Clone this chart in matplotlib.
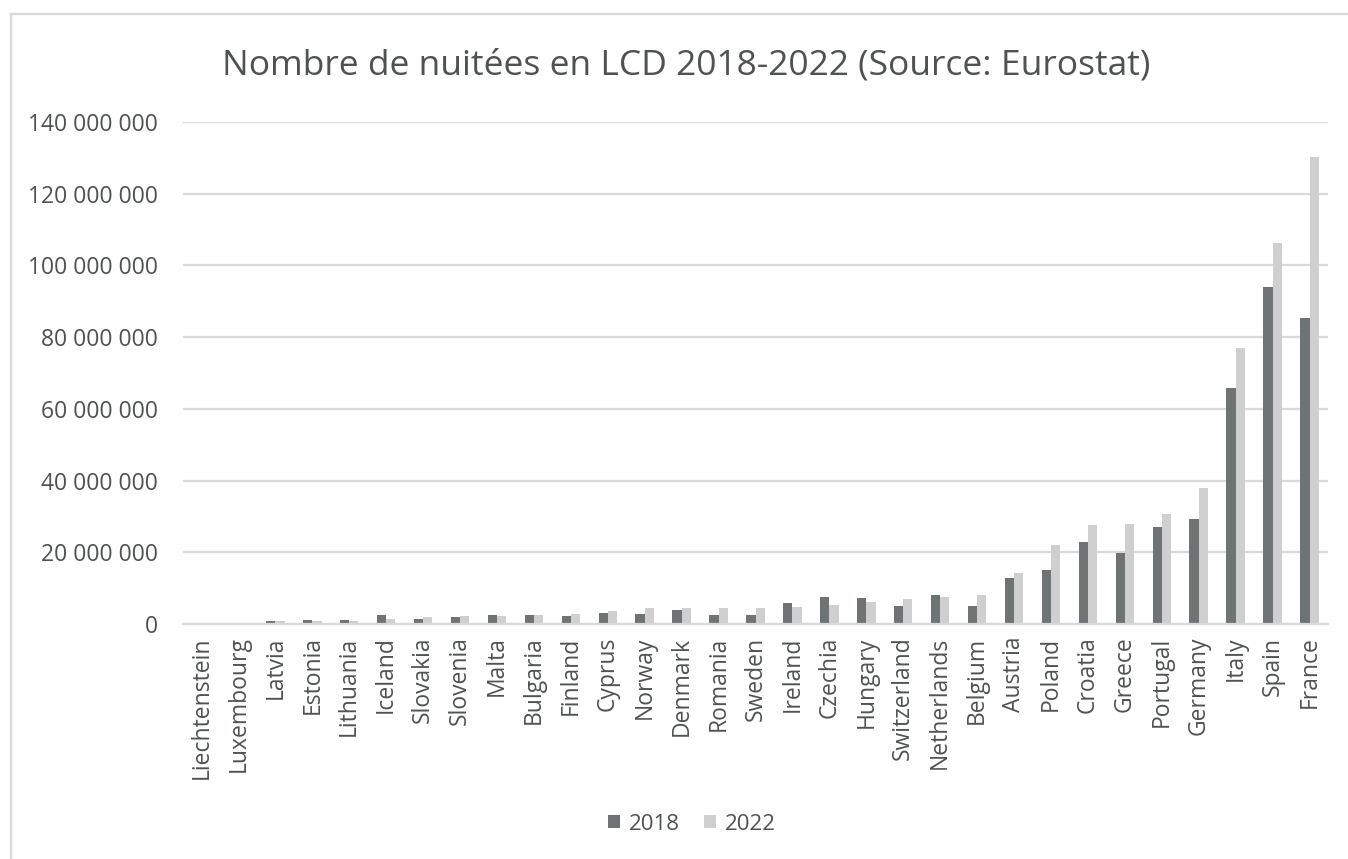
import matplotlib.pyplot as plt
import numpy as np
from matplotlib.lines import Line2D

plt.rcParams['font.family'] = ['Open Sans', 'DejaVu Sans']

# Countries, sorted as in the chart
countries = ["Liechtenstein", "Luxembourg", "Latvia", "Estonia", "Lithuania", "Iceland",
             "Slovakia", "Slovenia", "Malta", "Bulgaria", "Finland", "Cyprus", "Norway",
             "Denmark", "Romania", "Sweden", "Ireland", "Czechia", "Hungary", "Switzerland",
             "Netherlands", "Belgium", "Austria", "Poland", "Croatia", "Greece", "Portugal",
             "Germany", "Italy", "Spain", "France"]

# Nights (millions)
nights_2018 = [0.05, 0.05, 0.75, 1.1, 1.1, 2.6, 1.5, 1.9, 2.6, 2.6, 2.1, 3.2, 2.8,
               4.0, 2.6, 2.6, 5.8, 7.6, 7.3, 5.0, 8.2, 5.0, 12.9, 15.1, 22.9, 19.8,
               27.0, 29.4, 65.8, 94.0, 85.2]
nights_2022 = [0.05, 0.05, 0.9, 0.9, 0.9, 1.4, 1.9, 2.3, 2.3, 2.6, 2.8, 3.7, 4.4,
               4.5, 4.4, 4.4, 4.8, 5.3, 6.2, 7.1, 7.6, 8.1, 14.3, 22.0, 27.6, 27.9,
               30.6, 38.0, 77.0, 106.2, 130.3]

yticks = [0, 20e6, 40e6, 60e6, 80e6, 100e6, 120e6, 140e6]

W, H = 1348, 859
fig = plt.figure(figsize=(W / 100, H / 100), dpi=100)
ax = fig.add_axes([183 / W, 1 - 624 / H, (1328 - 183) / W, (624 - 122) / H])

txt = "#4f5252"
dark = "#6f7373"
light = "#cfcfcf"
grid = "#d9d9d9"

x = np.arange(len(countries))
bw = 0.25
ax.bar(x - bw / 2, np.array(nights_2018) * 1e6, width=bw, color=dark, label="2018", zorder=3)
ax.bar(x + bw / 2, np.array(nights_2022) * 1e6, width=bw, color=light, label="2022", zorder=3)

ax.set_xlim(-0.5, len(countries) - 0.5)
ax.set_ylim(0, 140e6)
ax.set_yticks(yticks)
ax.set_yticklabels([f"{int(v):,}".replace(",", " ") for v in yticks])
ax.set_xticks(x)
ax.set_xticklabels(countries, rotation=90, va="top", ha="center")

ax.tick_params(axis="y", length=0, pad=18, labelsize=16.5, labelcolor=txt)
ax.tick_params(axis="x", length=0, pad=9, labelsize=16.5, labelcolor=txt)
ax.yaxis.grid(True, color=grid, linewidth=1.6, zorder=0)
for s in ["top", "right", "left"]:
    ax.spines[s].set_visible(False)
ax.spines["bottom"].set_color(grid)
ax.spines["bottom"].set_linewidth(1.6)
ax.spines["bottom"].set_zorder(4)

fig.text(686 / W, 1 - 66 / H, "Nombre de nuitées en LCD 2018-2022 (Source: Eurostat)",
         ha="center", va="center", fontsize=25.5, color=txt)

fig.legend(loc="center", bbox_to_anchor=(692 / W, 1 - 824 / H), ncol=2, frameon=False,
           fontsize=16, handlelength=0.55, handleheight=0.55, handletextpad=0.4,
           columnspacing=1.1, labelcolor=txt)

# outer frame of the chart area
fig.add_artist(Line2D([11 / W, 1], [1 - 14 / H, 1 - 14 / H], color=grid, linewidth=1.6))
fig.add_artist(Line2D([11 / W, 11 / W], [0, 1 - 14 / H], color=grid, linewidth=1.6))

fig.savefig("out.png", dpi=100)
